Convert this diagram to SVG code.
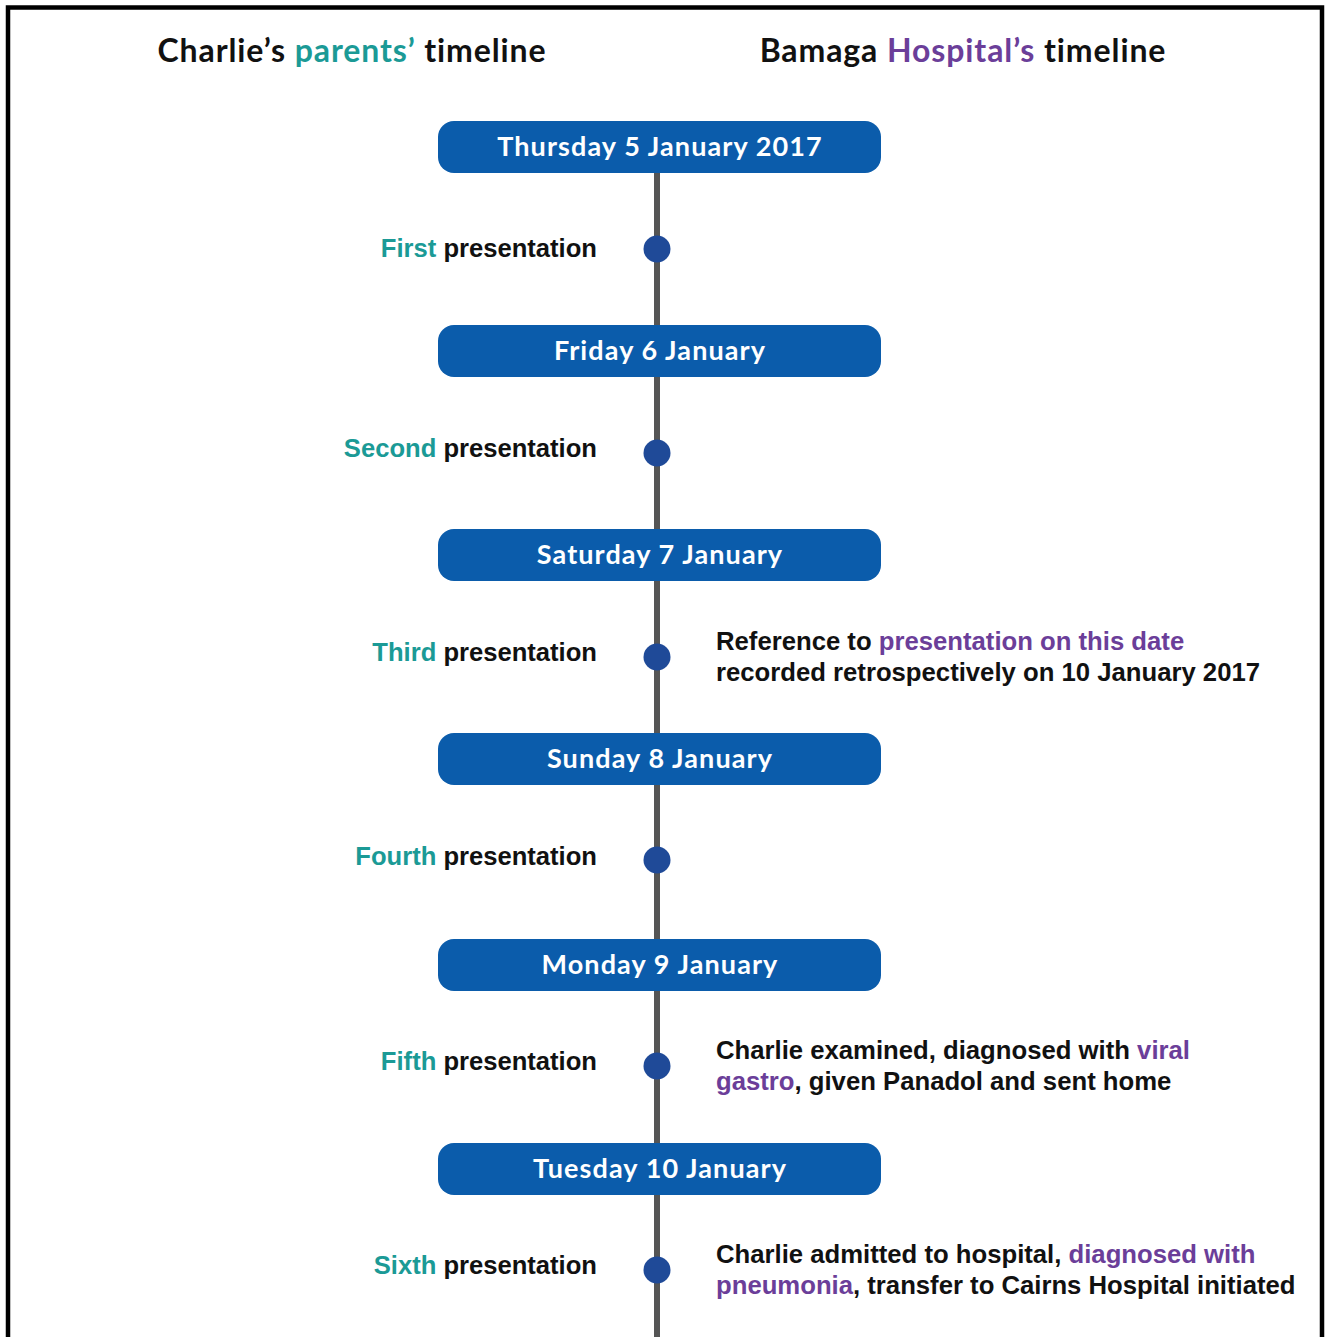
<svg xmlns="http://www.w3.org/2000/svg" width="1330" height="1337" viewBox="0 0 1330 1337">
<style>
.hdr{font-family:Lato,"Open Sans",sans-serif;font-weight:700;font-size:32px;fill:#111;text-anchor:middle;letter-spacing:0.9px}
.date{font-family:Lato,"Open Sans",sans-serif;font-weight:700;font-size:27px;fill:#fff;text-anchor:middle;letter-spacing:1.1px}
.box{fill:#0b5cab}
.dot{fill:#1f4a98}
.lbl{font-family:"Liberation Sans",Arial,sans-serif;font-weight:700;font-size:25.6px;fill:#111;text-anchor:end}
.txt{font-family:"Liberation Sans",Arial,sans-serif;font-weight:700;font-size:25.7px;fill:#111}
.teal{fill:#1b9a96}
.purp{fill:#6b3e99}
</style>
<rect x="0" y="0" width="1330" height="1337" fill="#fff"/>
<path d="M8,1337 V7.5 H1322 V1337" fill="none" stroke="#000" stroke-width="4.5"/>
<g id="headers">
<text class="hdr" x="352" y="62">Charlie’s <tspan class="teal">parents’</tspan> timeline</text>
<text class="hdr" x="963" y="62">Bamaga <tspan class="purp">Hospital’s</tspan> timeline</text>
</g>
<g id="connectors">
<line x1="657" y1="173" x2="657" y2="1337" stroke="#555" stroke-width="6"/>
</g>
<g id="d1"><rect class="box" x="438" y="121" width="443" height="52" rx="16"/><text class="date" x="660" y="156">Thursday 5 January 2017</text></g>
<g id="d2"><rect class="box" x="438" y="325" width="443" height="52" rx="16"/><text class="date" x="660" y="360">Friday 6 January</text></g>
<g id="d3"><rect class="box" x="438" y="529" width="443" height="52" rx="16"/><text class="date" x="660" y="564">Saturday 7 January</text></g>
<g id="d4"><rect class="box" x="438" y="733" width="443" height="52" rx="16"/><text class="date" x="660" y="768">Sunday 8 January</text></g>
<g id="d5"><rect class="box" x="438" y="939" width="443" height="52" rx="16"/><text class="date" x="660" y="974">Monday 9 January</text></g>
<g id="d6"><rect class="box" x="438" y="1143" width="443" height="52" rx="16"/><text class="date" x="660" y="1178">Tuesday 10 January</text></g>
<g id="p1"><circle class="dot" cx="657" cy="249" r="13.5"/><text class="lbl" x="597" y="257"><tspan class="teal">First</tspan> presentation</text></g>
<g id="p2"><circle class="dot" cx="657" cy="453" r="13.5"/><text class="lbl" x="597" y="457"><tspan class="teal">Second</tspan> presentation</text></g>
<g id="p3"><circle class="dot" cx="657" cy="657" r="13.5"/><text class="lbl" x="597" y="661"><tspan class="teal">Third</tspan> presentation</text>
<text class="txt" x="716" y="650">Reference to <tspan class="purp">presentation on this date</tspan></text>
<text class="txt" x="716" y="681">recorded retrospectively on 10 January 2017</text></g>
<g id="p4"><circle class="dot" cx="657" cy="860" r="13.5"/><text class="lbl" x="597" y="865"><tspan class="teal">Fourth</tspan> presentation</text></g>
<g id="p5"><circle class="dot" cx="657" cy="1066" r="13.5"/><text class="lbl" x="597" y="1070"><tspan class="teal">Fifth</tspan> presentation</text>
<text class="txt" x="716" y="1059">Charlie examined, diagnosed with <tspan class="purp">viral</tspan></text>
<text class="txt" x="716" y="1090"><tspan class="purp">gastro</tspan>, given Panadol and sent home</text></g>
<g id="p6"><circle class="dot" cx="657" cy="1270" r="13.5"/><text class="lbl" x="597" y="1274"><tspan class="teal">Sixth</tspan> presentation</text>
<text class="txt" x="716" y="1263">Charlie admitted to hospital, <tspan class="purp">diagnosed with</tspan></text>
<text class="txt" x="716" y="1294"><tspan class="purp">pneumonia</tspan>, transfer to Cairns Hospital initiated</text></g>
</svg>
